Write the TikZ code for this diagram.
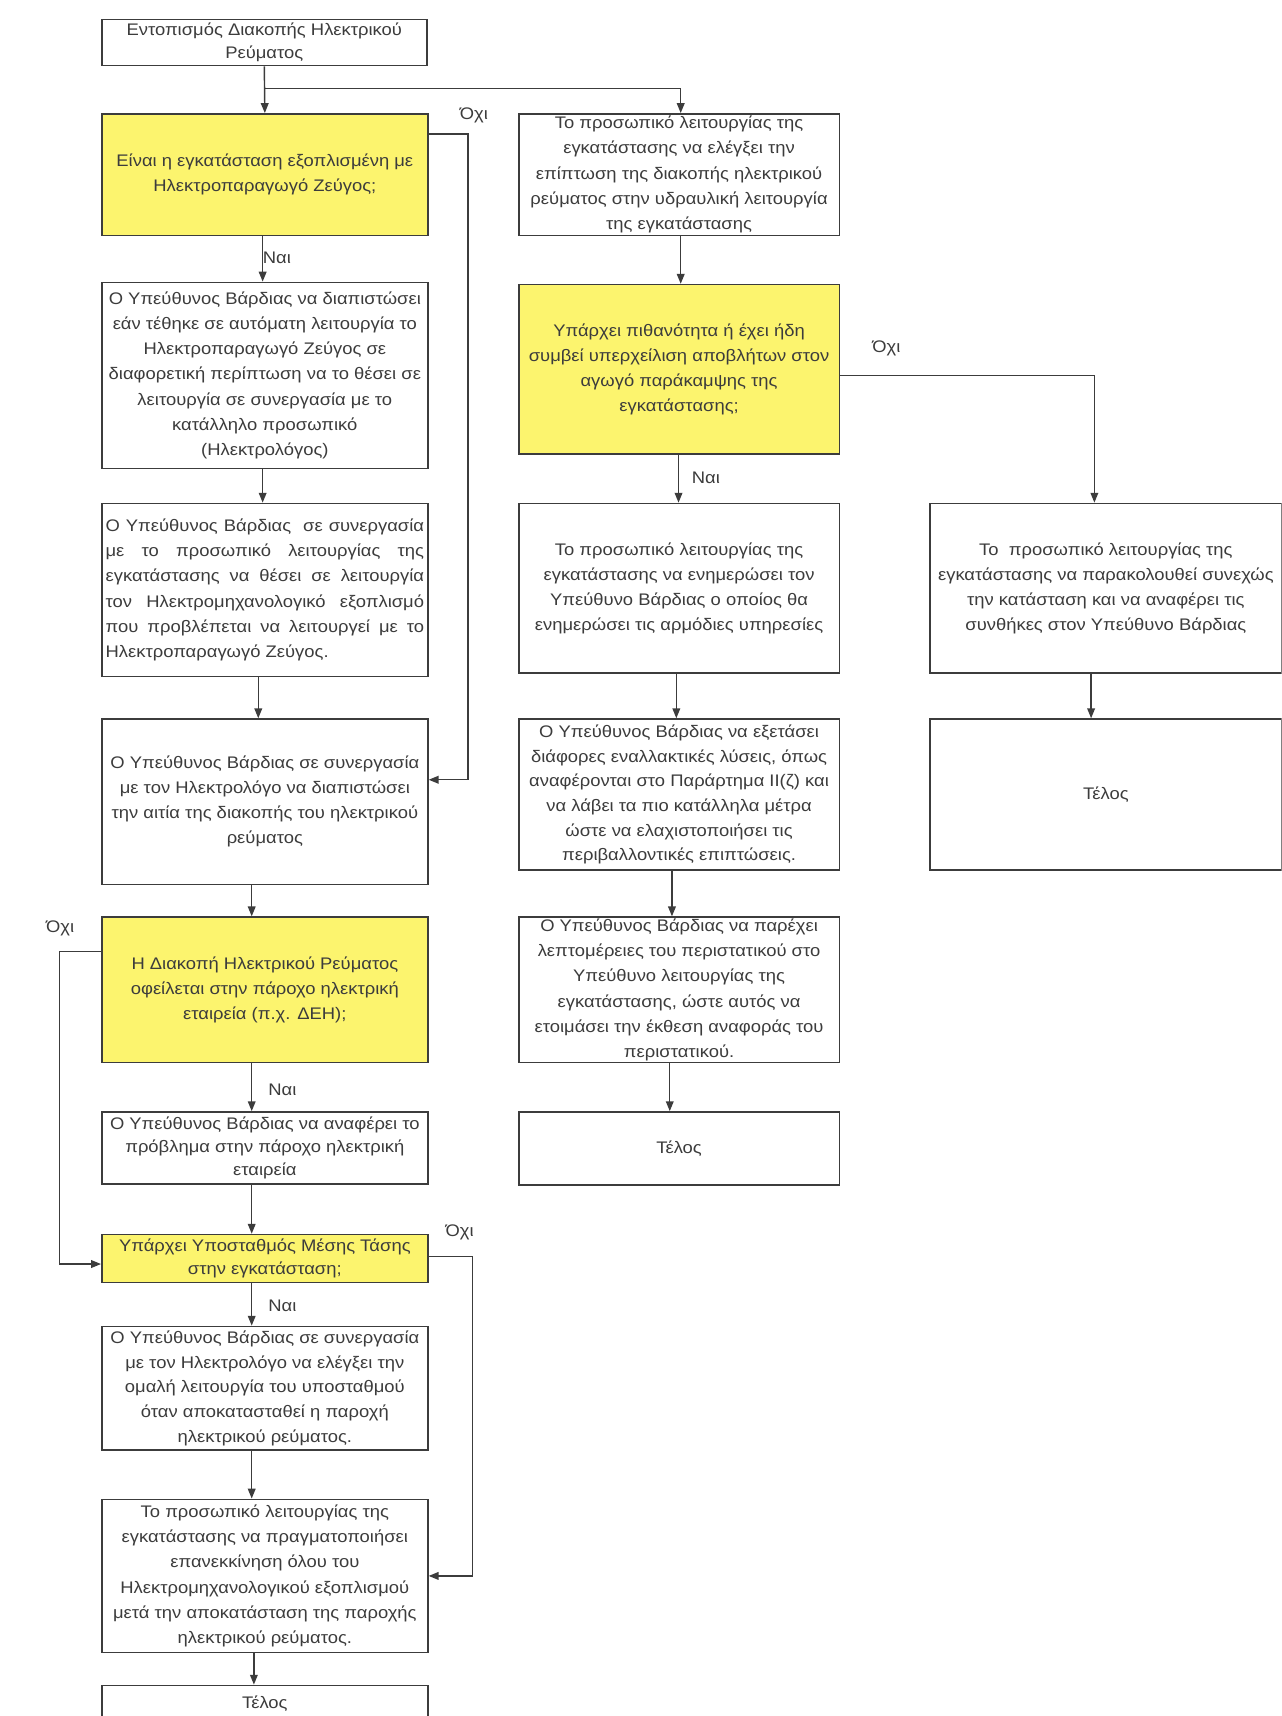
\documentclass[tikz,border=0pt]{standalone}
\usepackage{fontspec}
\usetikzlibrary{arrows.meta}
\newfontfamily\bxfont[FakeStretch=1.1]{Liberation Sans}
\definecolor{linec}{RGB}{60,60,60}
\definecolor{txtc}{RGB}{60,60,60}
\definecolor{yel}{RGB}{252,244,110}
\newcommand\jl[1]{\hbox to 291pt{#1}}
\tikzset{
  box/.style={draw=linec, line width=1.4pt, fill=white, align=center, inner sep=0pt,
    text=txtc, font=\bxfont\fontsize{15.3}{23}\selectfont},
  ybox/.style={box, fill=yel},
  arr/.style={draw=linec, line width=1.3pt, -{Triangle[length=9pt,width=7pt]}},
  lbl/.style={text=txtc, font=\bxfont\fontsize{15.3}{18}\selectfont, inner sep=0pt}
}
\begin{document}
\begin{tikzpicture}[x=1pt,y=-1pt]
\useasboundingbox (0,0) rectangle (1171,1568);
\fill[white] (0,0) rectangle (1171,1568);
\clip (0,0) rectangle (1171,1568);
% left column
\node[box, minimum width=297pt, minimum height=42pt, font=\bxfont\fontsize{15.3}{21}\selectfont] (b1) at (241.5,39) {Εντοπισμός Διακοπής Ηλεκτρικού\\Ρεύματος};
\node[ybox, minimum width=298pt, minimum height=111pt] (b2) at (242,159.5) {Είναι η εγκατάσταση εξοπλισμένη με\\Ηλεκτροπαραγωγό Ζεύγος;};
\node[box, minimum width=298pt, minimum height=170pt] (b3) at (242,343) {Ο Υπεύθυνος Βάρδιας να διαπιστώσει\\εάν τέθηκε σε αυτόματη λειτουργία το\\Ηλεκτροπαραγωγό Ζεύγος σε\\διαφορετική περίπτωση να το θέσει σε\\λειτουργία σε συνεργασία με το\\κατάλληλο προσωπικό\\(Ηλεκτρολόγος)};
\node[box, minimum width=298pt, minimum height=158pt] (b4) at (242,539) {\jl{Ο Υπεύθυνος Βάρδιας\ \ σε συνεργασία}\\\jl{με το προσωπικό λειτουργίας της}\\\jl{εγκατάστασης να θέσει σε λειτουργία}\\\jl{τον Ηλεκτρομηχανολογικό εξοπλισμό}\\\jl{που προβλέπεται να λειτουργεί με το}\\\jl{Ηλεκτροπαραγωγό Ζεύγος.\hfil}};
\node[box, minimum width=298pt, minimum height=151pt] (b5) at (242,732.5) {Ο Υπεύθυνος Βάρδιας σε συνεργασία\\με τον Ηλεκτρολόγο να διαπιστώσει\\την αιτία της διακοπής του ηλεκτρικού\\ρεύματος};
\node[ybox, minimum width=298pt, minimum height=133pt] (b6) at (242,904.5) {Η Διακοπή Ηλεκτρικού Ρεύματος\\οφείλεται στην πάροχο ηλεκτρική\\εταιρεία (π.χ. ΔΕΗ);};
\node[box, minimum width=298pt, minimum height=66pt, font=\bxfont\fontsize{15.3}{21}\selectfont] (b7) at (242,1049) {Ο Υπεύθυνος Βάρδιας να αναφέρει το\\πρόβλημα στην πάροχο ηλεκτρική\\εταιρεία};
\node[ybox, minimum width=298pt, minimum height=44pt, font=\bxfont\fontsize{15.3}{21}\selectfont] (b8) at (242,1150) {Υπάρχει Υποσταθμός Μέσης Τάσης\\στην εγκατάσταση;};
\node[box, minimum width=298pt, minimum height=113pt, font=\bxfont\fontsize{15.3}{22.5}\selectfont] (b9) at (242,1268.5) {Ο Υπεύθυνος Βάρδιας σε συνεργασία\\με τον Ηλεκτρολόγο να ελέγξει την\\ομαλή λειτουργία του υποσταθμού\\όταν αποκατασταθεί η παροχή\\ηλεκτρικού ρεύματος.};
\node[box, minimum width=298pt, minimum height=140pt] (b10) at (242,1440) {Το προσωπικό λειτουργίας της\\εγκατάστασης να πραγματοποιήσει\\επανεκκίνηση όλου του\\Ηλεκτρομηχανολογικού εξοπλισμού\\μετά την αποκατάσταση της παροχής\\ηλεκτρικού ρεύματος.};
\node[box, minimum width=298pt, minimum height=34pt] (b11) at (242,1557) {Τέλος};
% middle column
\node[box, minimum width=293pt, minimum height=111pt] (r1) at (620.5,159.5) {Το προσωπικό λειτουργίας της\\εγκατάστασης να ελέγξει την\\επίπτωση της διακοπής ηλεκτρικού\\ρεύματος στην υδραυλική λειτουργία\\της εγκατάστασης};
\node[ybox, minimum width=293pt, minimum height=155pt] (r2) at (620.5,337.5) {Υπάρχει πιθανότητα ή έχει ήδη\\συμβεί υπερχείλιση αποβλήτων στον\\αγωγό παράκαμψης της\\εγκατάστασης;};
\node[box, minimum width=293pt, minimum height=155pt] (r3) at (620.5,537.5) {Το προσωπικό λειτουργίας της\\εγκατάστασης να ενημερώσει τον\\Υπεύθυνο Βάρδιας ο οποίος θα\\ενημερώσει τις αρμόδιες υπηρεσίες};
\node[box, minimum width=293pt, minimum height=138pt, font=\bxfont\fontsize{15.3}{22.5}\selectfont] (r4) at (620.5,726) {Ο Υπεύθυνος Βάρδιας να εξετάσει\\διάφορες εναλλακτικές λύσεις, όπως\\αναφέρονται στο Παράρτημα ΙΙ(ζ) και\\να λάβει τα πιο κατάλληλα μέτρα\\ώστε να ελαχιστοποιήσει τις\\περιβαλλοντικές επιπτώσεις.};
\node[box, minimum width=293pt, minimum height=133pt] (r5) at (620.5,904.5) {Ο Υπεύθυνος Βάρδιας να παρέχει\\λεπτομέρειες του περιστατικού στο\\Υπεύθυνο λειτουργίας της\\εγκατάστασης, ώστε αυτός να\\ετοιμάσει την έκθεση αναφοράς του\\περιστατικού.};
\node[box, minimum width=293pt, minimum height=67pt] (r6) at (620.5,1049.5) {Τέλος};
% right column
\node[box, minimum width=321pt, minimum height=155pt] (f1) at (1010.5,537.5) {Το\ \ προσωπικό λειτουργίας της\\εγκατάστασης να παρακολουθεί συνεχώς\\την κατάσταση και να αναφέρει τις\\συνθήκες στον Υπεύθυνο Βάρδιας};
\node[box, minimum width=321pt, minimum height=138pt] (f2) at (1010.5,726) {Τέλος};
% labels
\node[lbl] (o1) at (433,105) {Όχι};
\node[lbl] (o2) at (55,848) {Όχι};
\node[lbl] (o3) at (420,1126) {Όχι};
\node[lbl] (o4) at (810,318) {Όχι};
\node[lbl] (n1) at (253,236) {Ναι};
\node[lbl] (n2) at (258,996) {Ναι};
\node[lbl] (n3) at (258,1193) {Ναι};
\node[lbl] (n4) at (645,437) {Ναι};
% connectors left
\draw[arr] (b1.south) -- (b2.north);
\draw[arr] ([yshift=-20pt]b1.south) -| ([xshift=1.5pt]r1.north);
\draw[arr] ([xshift=-2pt]b2.south) -- ([xshift=-2pt]b3.north);
\draw[arr] ([xshift=-2pt]b3.south) -- ([xshift=-2pt]b4.north);
\draw[arr] ([xshift=-6pt]b4.south) -- ([xshift=-6pt]b5.north);
\draw[arr] ([xshift=-12pt]b5.south) -- ([xshift=-12pt]b6.north);
\draw[arr] ([xshift=-12pt]b6.south) -- ([xshift=-12pt]b7.north);
\draw[arr] ([xshift=-12pt]b7.south) -- ([xshift=-12pt]b8.north);
\draw[arr] ([xshift=-12pt]b8.south) -- ([xshift=-12pt]b9.north);
\draw[arr] ([xshift=-12pt]b9.south) -- ([xshift=-12pt]b10.north);
\draw[arr] ([xshift=-10pt]b10.south) -- ([xshift=-10pt]b11.north);
\draw[arr] ([yshift=-19pt]b2.north east) -- ++(36,0) |- ([yshift=20pt]b5.east);
\draw[arr] ([yshift=-32pt]b6.north west) -- ++(-38,0) |- ([yshift=-5pt]b8.west);
\draw[arr] ([yshift=2pt]b8.east) -- ++(40,0) |- (b10.east);
% connectors middle
\draw[arr] ([xshift=1.5pt]r1.south) -- ([xshift=1.5pt]r2.north);
\draw[arr] ([xshift=-0.5pt]r2.south) -- ([xshift=-0.5pt]r3.north);
\draw[arr] ([xshift=-2.5pt]r3.south) -- ([xshift=-2.5pt]r4.north);
\draw[arr] ([xshift=-6.5pt]r4.south) -- ([xshift=-6.5pt]r5.north);
\draw[arr] ([xshift=-8.5pt]r5.south) -- ([xshift=-8.5pt]r6.north);
\draw[arr] ([yshift=-5.5pt]r2.east) -| ([xshift=-10.5pt]f1.north);
\draw[arr] ([xshift=-13.5pt]f1.south) -- ([xshift=-13.5pt]f2.north);
\end{tikzpicture}
\end{document}
